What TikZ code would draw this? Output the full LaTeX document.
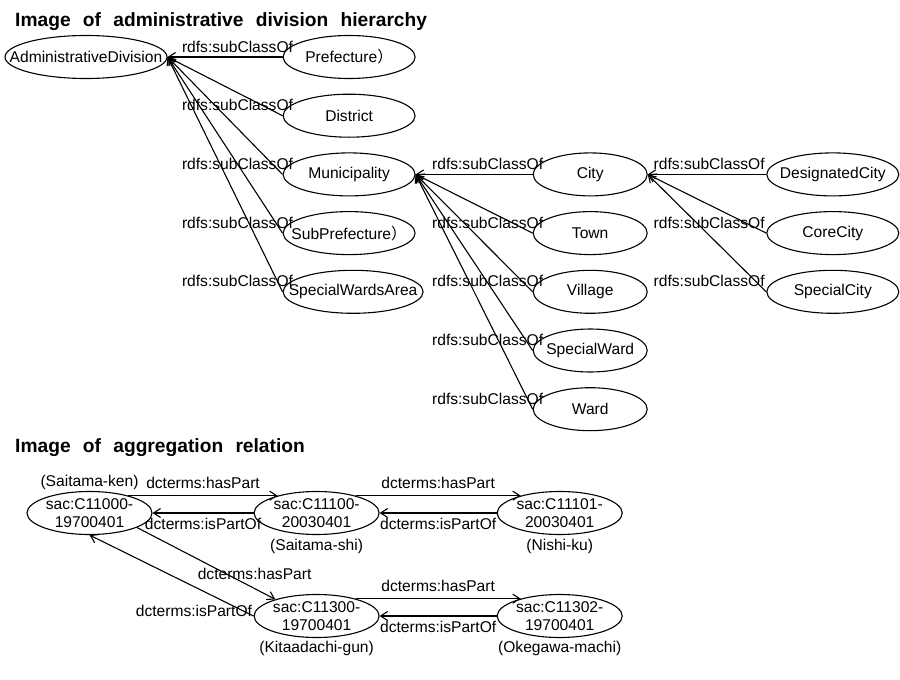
\documentclass[tikz,border=0pt]{standalone}
\usepackage{fontspec}
\setmainfont{Liberation Sans}
\newfontfamily\cjkfont{Noto Sans CJK JP}
\newfontfamily\titlefont[WordSpace=2.3]{Liberation Sans}
\usetikzlibrary{arrows.meta,
positioning,
shapes.geometric}

\begin{document}
\begin{tikzpicture}[
    x=1pt, y=-1pt,
    font=\fontsize{15.6}{18.6}\selectfont,
    node distance=14.6pt and 117pt,
    cls/.style={
        draw,
        ellipse,
        line width=1.1pt,
        minimum height=43pt,
        inner xsep=-30pt,
        inner ysep=-4pt,
        align=center
    },
    wideClass/.style={
        cls,
        minimum width=132pt
    },
    cityClass/.style={
        cls,
        minimum width=114pt
    },
    code/.style={
        cls,
        minimum width=125pt
    },
    heading/.style={
        font=\titlefont\bfseries\fontsize{19.2}{22}\selectfont,
        anchor=base west,
        inner sep=0pt
    },
    note/.style={
        inner sep=0pt
    },
    lbl/.style={
        inner sep=1pt
    },
    subLabel/.style={
        lbl,
        pos=0,
        anchor=base east,
        yshift=5pt,
        xshift=#1
    },
    subLabel/.default=12pt,
    link/.style={
        -{Straight Barb[length=7pt,width=9pt]},
        line width=1.1pt
    }
]

\useasboundingbox (0,0) rectangle (900,680);

%------------------------------------------------------------------------------
% Titles
%------------------------------------------------------------------------------

\node[heading] (hierTitle) at (15,27) {Image of administrative division hierarchy};
\node[heading] (aggTitle) at (15,452) {Image of aggregation relation};

%------------------------------------------------------------------------------
% Class hierarchy
%------------------------------------------------------------------------------

\node[cls, minimum width=162pt] (admin) at (86,57) {AdministrativeDivision};

\node[wideClass, right=115pt of admin] (prefecture) {Prefecture{\cjkfont ）}};
\node[wideClass, below=of prefecture] (district) {District};
\node[wideClass, below=of district] (municipality) {Municipality};
\node[wideClass, below=of municipality] (subPrefecture) {SubPrefecture{\cjkfont ）}};
\node[cls, minimum width=140pt, below=of subPrefecture, xshift=4pt] (wardsArea) {SpecialWardsArea};

\node[cityClass, right=of municipality] (city) {City};
\node[cityClass, below=of city] (town) {Town};
\node[cityClass, below=of town] (village) {Village};
\node[cityClass, below=of village] (specialWard) {SpecialWard};
\node[cityClass, below=of specialWard] (ward) {Ward};

\node[wideClass, right=118.5pt of city] (designated) {DesignatedCity};
\node[wideClass, below=of designated] (coreCity) {CoreCity};
\node[wideClass, below=of coreCity] (specialCity) {SpecialCity};

%------------------------------------------------------------------------------
% rdfs:subClassOf links
%------------------------------------------------------------------------------

\draw[link] (prefecture.west) -- node[subLabel] {rdfs:subClassOf} (admin.east);
\draw[link] (district.west) -- node[subLabel] {rdfs:subClassOf} (admin.east);
\draw[link] (municipality.west) -- node[subLabel] {rdfs:subClassOf} (admin.east);
\draw[link] (subPrefecture.west) -- node[subLabel] {rdfs:subClassOf} (admin.east);
\draw[link] (wardsArea.west) -- node[subLabel] {rdfs:subClassOf} (admin.east);

\draw[link] (city.west) -- node[subLabel] {rdfs:subClassOf} (municipality.east);
\draw[link] (town.west) -- node[subLabel] {rdfs:subClassOf} (municipality.east);
\draw[link] (village.west) -- node[subLabel] {rdfs:subClassOf} (municipality.east);
\draw[link] (specialWard.west) -- node[subLabel] {rdfs:subClassOf} (municipality.east);
\draw[link] (ward.west) -- node[subLabel] {rdfs:subClassOf} (municipality.east);

\draw[link] (designated.west) -- node[subLabel=0pt] {rdfs:subClassOf} (city.east);
\draw[link] (coreCity.west) -- node[subLabel=0pt] {rdfs:subClassOf} (city.east);
\draw[link] (specialCity.west) -- node[subLabel=0pt] {rdfs:subClassOf} (city.east);

%------------------------------------------------------------------------------
% Aggregation instances
%------------------------------------------------------------------------------

\node[code] (c11000) at (89.5,513) {sac:C11000-\\19700401};
\node[code, right=101pt of c11000] (c11100) {sac:C11100-\\20030401};
\node[code, right=of c11100] (c11101) {sac:C11101-\\20030401};
\node[code, below=58.9pt of c11100] (c11300) {sac:C11300-\\19700401};
\node[code, right=of c11300] (c11302) {sac:C11302-\\19700401};

\node[note, above=1pt of c11000] (saitamaKen) {(Saitama-ken)};
\node[note, below=3.5pt of c11100] (saitamaShi) {(Saitama-shi)};
\node[note, below=3.5pt of c11101] (nishiKu) {(Nishi-ku)};
\node[note, below=3pt of c11300] (kitaadachi) {(Kitaadachi-gun)};
\node[note, below=3pt of c11302] (okegawa) {(Okegawa-machi)};

%------------------------------------------------------------------------------
% hasPart / isPartOf links
%------------------------------------------------------------------------------

\draw[link] (c11000.24) -- node[lbl, midway, above=5pt] {dcterms:hasPart} (c11100.156);
\draw[link] (c11100.west) -- node[lbl, midway, below=4pt] {dcterms:isPartOf} (c11000.east);

\draw[link] (c11100.24) -- node[lbl, midway, above=5pt] {dcterms:hasPart} (c11101.156);
\draw[link] (c11101.west) -- node[lbl, midway, below=4pt] {dcterms:isPartOf} (c11100.east);

\draw[link] (c11000.-17) -- node[lbl, pos=0.85, above=7pt] {dcterms:hasPart} (c11300.158);
\draw[link] (c11300.west) -- node[lbl, pos=0, anchor=base east] {dcterms:isPartOf} (c11000.south);

\draw[link] (c11300.24) -- node[lbl, midway, above=5pt] {dcterms:hasPart} (c11302.156);
\draw[link] (c11302.west) -- node[lbl, midway, below=4pt] {dcterms:isPartOf} (c11300.east);

\end{tikzpicture}
\end{document}
